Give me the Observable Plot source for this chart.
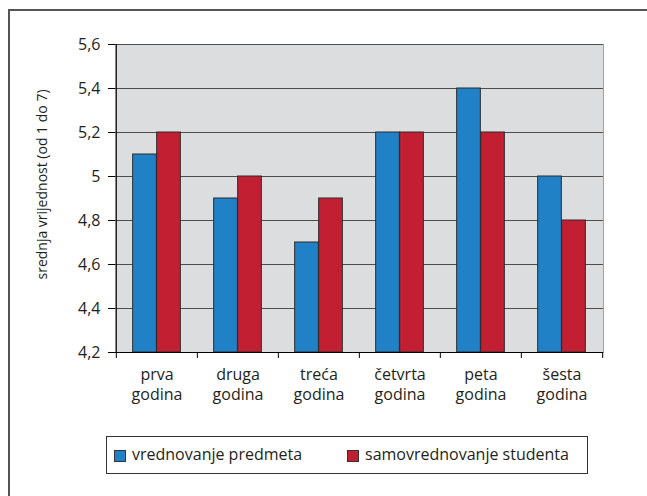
<!DOCTYPE html>
<html><head><meta charset="utf-8">
<script src="https://cdn.jsdelivr.net/npm/d3@7"></script>
<script src="https://cdn.jsdelivr.net/npm/@observablehq/plot@0.6"></script>
<style>
body{margin:0;background:#fff;font-family:"Open Sans",sans-serif;}
#wrap{position:relative;width:647px;height:496px;overflow:hidden;}
#border{position:absolute;left:8px;top:9px;right:-5px;bottom:-5px;border-top:2px solid #555;border-left:2px solid #555;}
#chart{position:absolute;left:0;top:0;}
#legend{position:absolute;left:106px;top:436px;width:480px;height:36px;border:1px solid #333;font-size:16px;color:#231f20;}
.sw{position:absolute;top:13px;width:10px;height:10px;border:1px solid #333;}
.lt{position:absolute;top:6px;line-height:22px;white-space:nowrap;}
</style></head><body>
<div id="wrap"><div id="border"></div><div id="chart"></div><div id="legend"></div></div>
<script>
const categories = ["prva\ngodina","druga\ngodina","treća\ngodina","četvrta\ngodina","peta\ngodina","šesta\ngodina"];
const seriesNames = ["vrednovanje predmeta","samovrednovanje studenta"];
const vrednovanjePredmeta = [5.1,4.9,4.7,5.2,5.4,5.0];
const samovrednovanjeStudenta = [5.2,5.0,4.9,5.2,5.2,4.8];
const yTicks = [4.2,4.4,4.6,4.8,5.0,5.2,5.4,5.6];
const yLabel = "srednja vrijednost (od 1 do 7)";
const colors = ["#2181c7","#c21f32"];

const rows = [];
categories.forEach((c,i)=>{
  rows.push({cat:c, s:0, value:vrednovanjePredmeta[i]});
  rows.push({cat:c, s:1, value:samovrednovanjeStudenta[i]});
});

const W=647,H=420,ML=115,MR=44,MT=44,MB=68;
const bw=(W-ML-MR)/categories.length;
const barW=24;
const fmt = d => String(d).replace(".",",");

const chart = Plot.plot({
  width:W,height:H,marginLeft:ML,marginRight:MR,marginTop:MT,marginBottom:MB,
  style:{fontFamily:"Open Sans",fontSize:"16px",color:"#231f20",background:"transparent"},
  x:{domain:categories,padding:0,axis:null},
  y:{domain:[yTicks[0],yTicks[yTicks.length-1]],axis:null},
  marks:[
    Plot.frame({fill:"#dcdddf",stroke:"#a0a0a0"}),
    Plot.gridY(yTicks,{stroke:"#4d4d4d",strokeOpacity:1}),
    Plot.barY(rows.filter(d=>d.s===0),{x:"cat",y1:yTicks[0],y2:"value",fill:colors[0],stroke:"#2b2b2b",strokeWidth:1,insetLeft:bw/2-barW,insetRight:bw/2}),
    Plot.barY(rows.filter(d=>d.s===1),{x:"cat",y1:yTicks[0],y2:"value",fill:colors[1],stroke:"#2b2b2b",strokeWidth:1,insetLeft:bw/2,insetRight:bw/2-barW}),
    Plot.ruleY([yTicks[0]],{stroke:"#000"}),
    Plot.ruleX([categories[0]],{dx:-bw/2,stroke:"#000"}),
    Plot.axisY(yTicks,{tickSize:7,tickPadding:8,tickFormat:fmt,stroke:"#000",fontSize:16,label:null}),
    Plot.axisX(categories,{tickSize:6,tickFormat:()=>"",dx:-bw/2,stroke:"#000",label:null}),
    Plot.axisX([categories[categories.length-1]],{tickSize:6,tickFormat:()=>"",dx:bw/2,stroke:"#000",label:null}),
    Plot.text(categories,{x:d=>d,frameAnchor:"bottom",lineAnchor:"top",dy:13,lineHeight:1.25,fontSize:16,fill:"#231f20"}),
    Plot.text([yLabel],{frameAnchor:"left",textAnchor:"middle",rotate:-90,dx:-73,dy:-14,fontSize:14,fill:"#231f20"})
  ]
});
document.getElementById("chart").appendChild(chart);

const leg = document.getElementById("legend");
const swLeft=[7,240], txtLeft=[25,258];
seriesNames.forEach((n,i)=>{
  const sw=document.createElement("div");sw.className="sw";sw.style.background=colors[i];sw.style.left=swLeft[i]+"px";
  const t=document.createElement("span");t.className="lt";t.textContent=n;t.style.left=txtLeft[i]+"px";
  leg.appendChild(sw);leg.appendChild(t);
});
</script>
</body></html>
